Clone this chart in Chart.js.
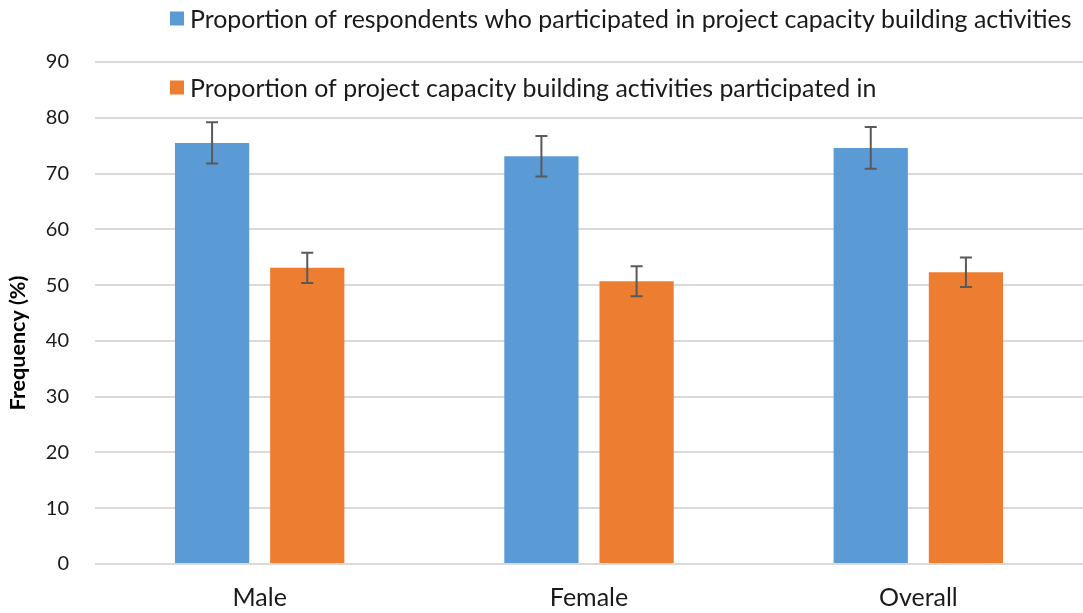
<!DOCTYPE html>
<html>
<head>
<meta charset="utf-8">
<script src="https://cdn.jsdelivr.net/npm/chart.js@4/dist/chart.umd.min.js"></script>
<style>
  html, body { margin: 0; padding: 0; background: #ffffff; }
  #wrap { width: 1083px; height: 613px; position: relative; }
</style>
</head>
<body>
<div id="wrap"><canvas id="c"></canvas></div>
<script>
const categories = ['Male', 'Female', 'Overall'];
const seriesNames = [
  'Proportion of respondents who participated in project capacity building activities',
  'Proportion of project capacity building activities participated in'
];
const respondents = [75.5, 73.1, 74.6];
const respondentsErr = [3.7, 3.65, 3.75];
const activities = [53.1, 50.7, 52.3];
const activitiesErr = [2.7, 2.7, 2.65];
const yTicks = [0, 10, 20, 30, 40, 50, 60, 70, 80, 90];
const yTitle = 'Frequency (%)';

const FONT = 'Lato, "Open Sans", sans-serif';
const BLUE = '#5B9BD5';
const ORANGE = '#ED7D31';

const errorBars = {
  id: 'errorBars',
  afterDatasetsDraw(chart) {
    const ctx = chart.ctx;
    const ys = chart.scales.y;
    ctx.save();
    ctx.strokeStyle = '#595959';
    ctx.lineWidth = 2;
    chart.data.datasets.forEach((ds, di) => {
      const meta = chart.getDatasetMeta(di);
      meta.data.forEach((bar, i) => {
        const v = ds.data[i], e = ds.errors[i];
        const yt = ys.getPixelForValue(v + e);
        const yb = ys.getPixelForValue(v - e);
        const x = bar.x;
        ctx.beginPath();
        ctx.moveTo(x, yt); ctx.lineTo(x, yb);
        ctx.moveTo(x - 6, yt); ctx.lineTo(x + 6, yt);
        ctx.moveTo(x - 6, yb); ctx.lineTo(x + 6, yb);
        ctx.stroke();
      });
    });
    ctx.restore();
  }
};

const customLegend = {
  id: 'customLegend',
  afterDraw(chart) {
    const ctx = chart.ctx;
    ctx.save();
    const rows = [18.5, 87.5];
    chart.data.datasets.forEach((ds, i) => {
      const cy = rows[i];
      ctx.fillStyle = ds.backgroundColor;
      ctx.fillRect(170, cy - 7, 14, 14);
      ctx.fillStyle = '#1a1a1a';
      ctx.font = '24.9px ' + FONT;
      ctx.textBaseline = 'middle';
      ctx.textAlign = 'left';
      ctx.fillText(ds.label, 190, cy + 1);
    });
    // y-axis title
    ctx.translate(18, 343);
    ctx.rotate(-Math.PI / 2);
    ctx.font = 'bold 21.5px ' + FONT;
    ctx.fillStyle = '#000000';
    ctx.textAlign = 'center';
    ctx.textBaseline = 'middle';
    ctx.fillText(yTitle, 0, 0);
    ctx.restore();
  }
};

new Chart(document.getElementById('c'), {
  type: 'bar',
  data: {
    labels: categories,
    datasets: [
      { label: seriesNames[0], data: respondents, errors: respondentsErr, backgroundColor: BLUE,
        categoryPercentage: 0.578, barPercentage: 0.78 },
      { label: seriesNames[1], data: activities, errors: activitiesErr, backgroundColor: ORANGE,
        categoryPercentage: 0.578, barPercentage: 0.78 }
    ]
  },
  options: {
    responsive: true,
    maintainAspectRatio: false,
    animation: false,
    layout: { padding: { top: 62, left: 0, right: 0, bottom: 0 } },
    plugins: {
      legend: { display: false },
      tooltip: { enabled: false }
    },
    scales: {
      x: {
        grid: { display: false, drawTicks: false },
        border: { display: false },
        ticks: { color: '#1a1a1a', font: { family: FONT, size: 25 }, padding: 19 },
        afterFit(s) { s.height = 49; }
      },
      y: {
        min: 0, max: 90,
        afterBuildTicks(s) { s.ticks = yTicks.map(v => ({ value: v })); },
        grid: { color: '#d9d9d9', lineWidth: 2, drawTicks: false },
        border: { display: false },
        ticks: { color: '#1a1a1a', font: { family: FONT, size: 20 }, padding: 26 },
        afterFit(s) { s.width = 95; }
      }
    }
  },
  plugins: [errorBars, customLegend]
});
</script>
</body>
</html>
